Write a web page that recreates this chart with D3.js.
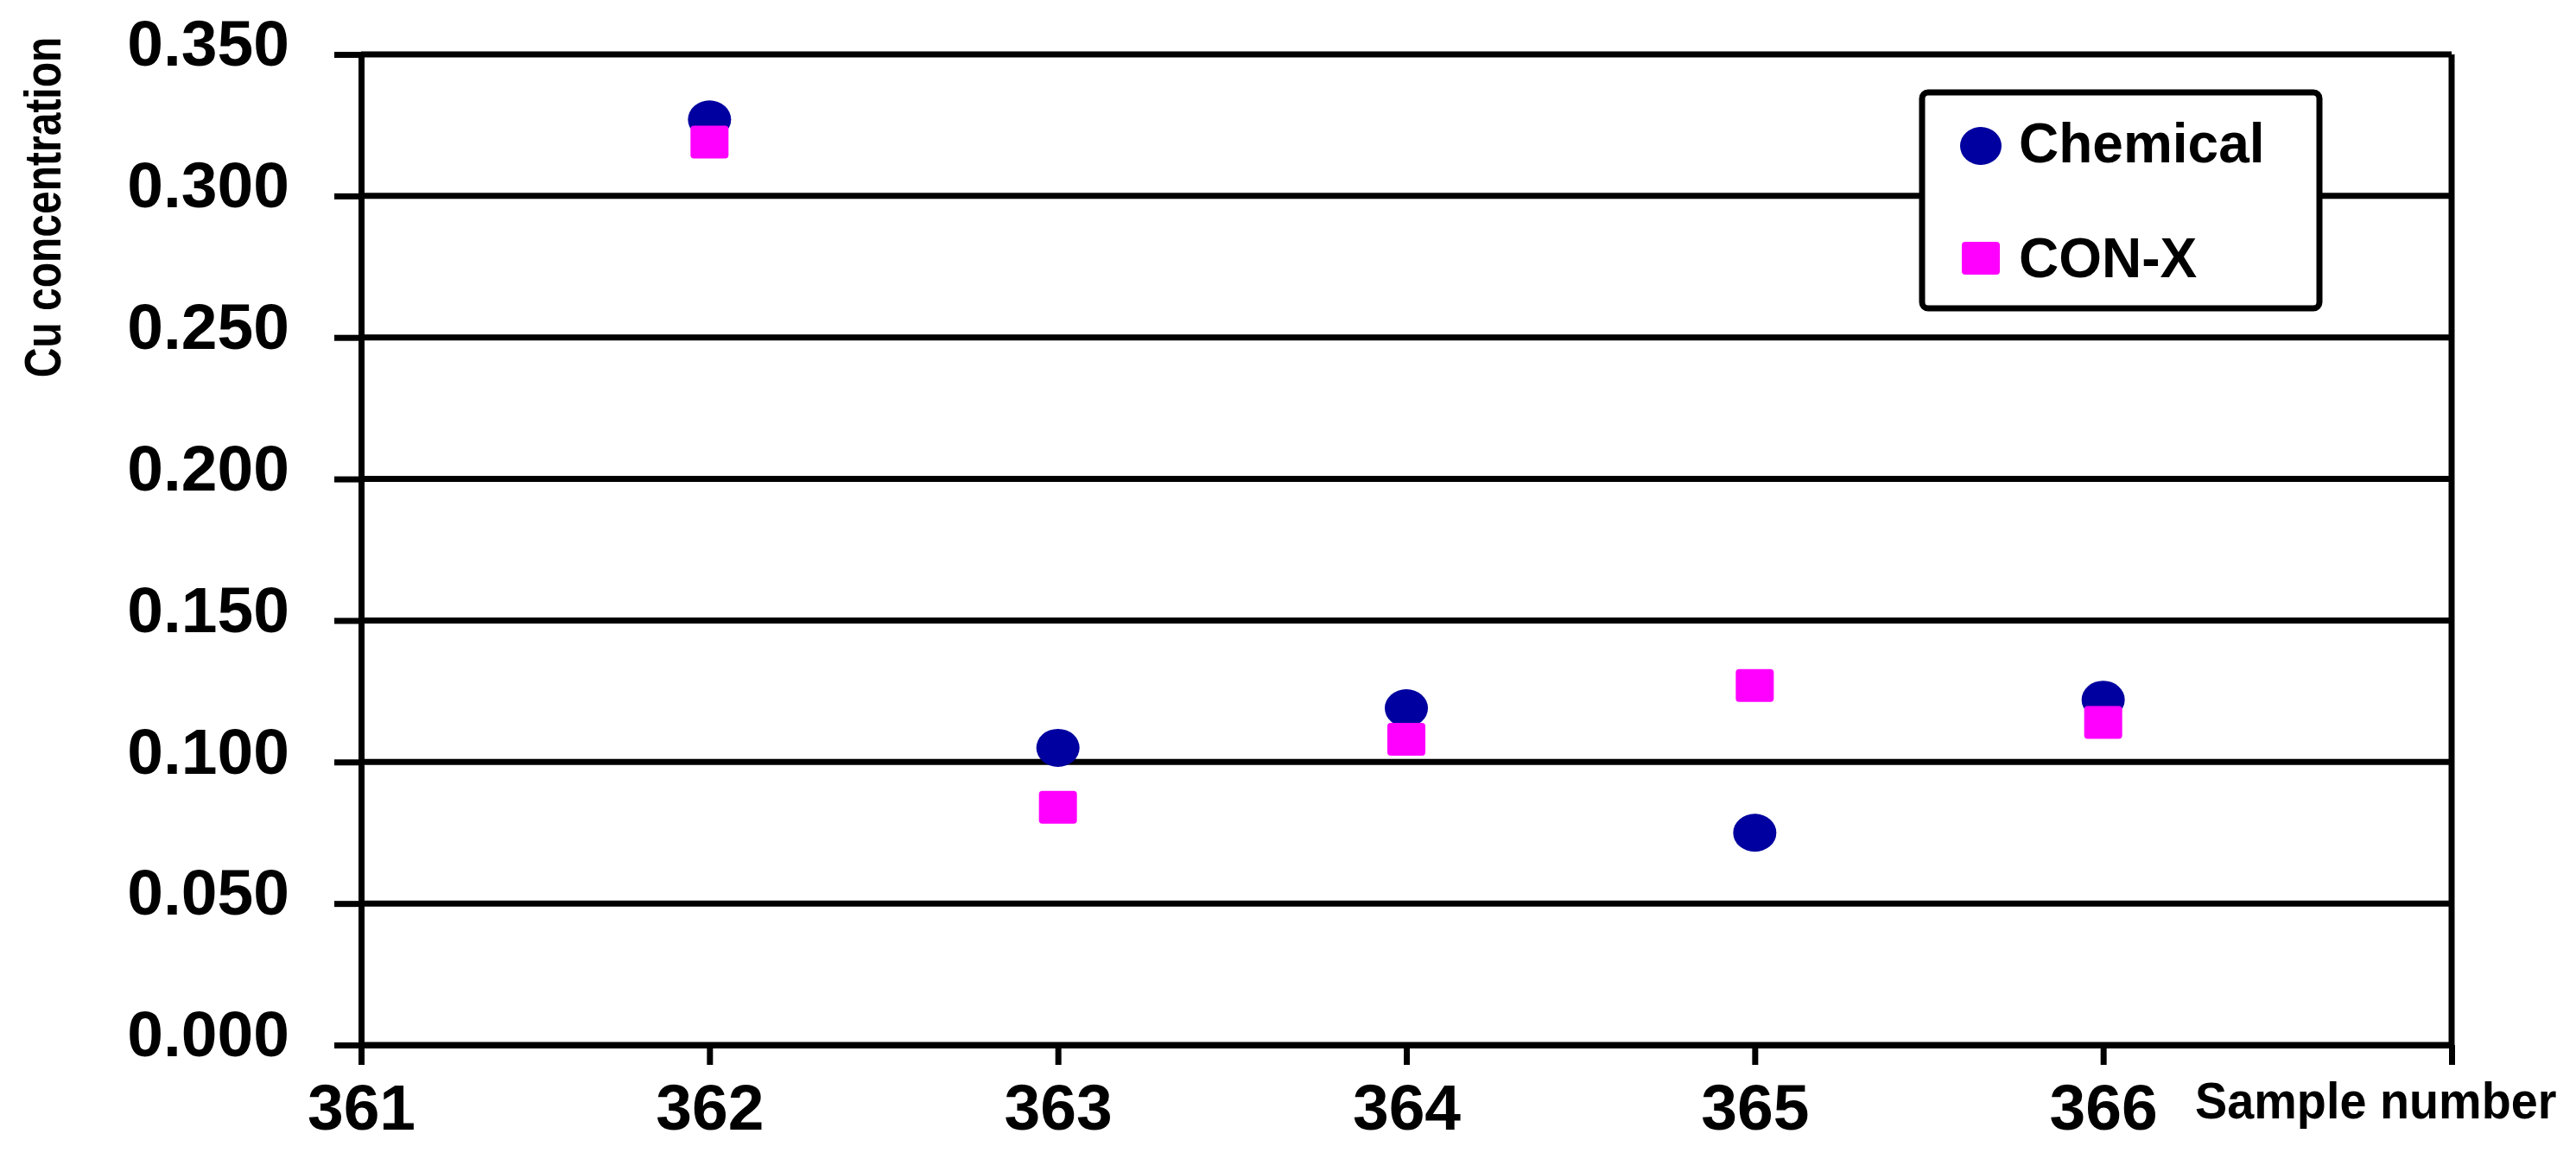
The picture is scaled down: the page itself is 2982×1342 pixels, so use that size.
<!DOCTYPE html>
<html>
<head>
<meta charset="utf-8">
<script src="https://cdnjs.cloudflare.com/ajax/libs/d3/7.8.5/d3.min.js"></script>
<style>
  html, body { margin: 0; padding: 0; background: #fff; }
  text { font-family: "Liberation Sans", Arial, sans-serif; font-weight: bold; fill: #000; }
</style>
</head>
<body>
<div id="chart"></div>
<script>
var samples = [362, 363, 364, 365, 366];
var chemical = [0.327, 0.105, 0.119, 0.075, 0.122];
var conx = [0.319, 0.084, 0.108, 0.127, 0.114];
var xTicks = [361, 362, 363, 364, 365, 366, 367];
var yTicks = [0, 0.05, 0.1, 0.15, 0.2, 0.25, 0.3, 0.35];
var seriesNames = ["Chemical", "CON-X"];

(function() {
  var width = 2982, height = 1342;
  var margin = { top: 63, left: 418, right: 144, bottom: 132 };

  var svg = d3.select("#chart")
    .append("svg")
    .attr("width", width)
    .attr("height", height)
    .style("display", "block");

  var xPositionScale = d3.scaleLinear()
    .domain([361, 367])
    .range([margin.left, width - margin.right]);

  var yPositionScale = d3.scaleLinear()
    .domain([0, 0.35])
    .range([height - margin.bottom, margin.top]);

  // horizontal grid lines
  svg.append("g")
    .attr("class", "grid")
    .selectAll("line")
    .data(yTicks)
    .enter()
    .append("line")
    .attr("x1", xPositionScale(361))
    .attr("x2", xPositionScale(367))
    .attr("y1", function(d) { return yPositionScale(d); })
    .attr("y2", function(d) { return yPositionScale(d); })
    .attr("stroke", "black")
    .attr("stroke-width", 7);

  // right border
  svg.append("line")
    .attr("x1", xPositionScale(367))
    .attr("x2", xPositionScale(367))
    .attr("y1", yPositionScale(0.35))
    .attr("y2", yPositionScale(0))
    .attr("stroke", "black")
    .attr("stroke-width", 7);

  var yAxis = d3.axisLeft(yPositionScale)
    .tickValues(yTicks)
    .tickFormat(d3.format(".3f"))
    .tickSize(31)
    .tickSizeOuter(0)
    .tickPadding(52);

  var yAxisG = svg.append("g")
    .attr("class", "axis y-axis")
    .attr("transform", "translate(" + margin.left + ",0)")
    .call(yAxis);

  var xAxis = d3.axisBottom(xPositionScale)
    .tickValues(xTicks)
    .tickFormat(function(d) { return d < 367 ? d : ""; })
    .tickSize(23)
    .tickSizeOuter(0)
    .tickPadding(22);

  var xAxisG = svg.append("g")
    .attr("class", "axis x-axis")
    .attr("transform", "translate(0," + yPositionScale(0) + ")")
    .call(xAxis);

  [yAxisG, xAxisG].forEach(function(g) {
    g.select(".domain").attr("stroke", "black").attr("stroke-width", 7);
    g.selectAll(".tick line").attr("stroke", "black").attr("stroke-width", 7);
    g.selectAll(".tick text")
      .attr("fill", "black")
      .style("font-family", "'Liberation Sans', Arial, sans-serif")
      .style("font-weight", "bold")
      .style("font-size", "75px");
  });
  yAxisG.selectAll(".tick text").attr("dy", "0.17em");

  // axis titles (narrowed like the original condensed face)
  svg.append("text")
    .attr("transform", "translate(70,240) rotate(-90) scale(0.8,1)")
    .attr("text-anchor", "middle")
    .style("font-size", "60px")
    .text("Cu concentration");

  svg.append("text")
    .attr("transform", "translate(2541,1295) scale(0.93,1)")
    .style("font-size", "60px")
    .text("Sample number");

  // points
  var dots = svg.append("g").attr("class", "points");

  dots.selectAll(".chem")
    .data(samples)
    .enter()
    .append("ellipse")
    .attr("class", "chem")
    .attr("cx", function(d) { return xPositionScale(d); })
    .attr("cy", function(d, i) { return yPositionScale(chemical[i]); })
    .attr("rx", 25)
    .attr("ry", 22)
    .attr("fill", "#0000a0");

  dots.selectAll(".conx")
    .data(samples)
    .enter()
    .append("rect")
    .attr("class", "conx")
    .attr("x", function(d) { return xPositionScale(d) - 22; })
    .attr("y", function(d, i) { return yPositionScale(conx[i]) - 19; })
    .attr("width", 44)
    .attr("height", 38)
    .attr("rx", 4)
    .attr("fill", "#ff00ff");

  // legend
  var legend = svg.append("g").attr("class", "legend");
  legend.append("rect")
    .attr("x", 2225)
    .attr("y", 107)
    .attr("width", 460)
    .attr("height", 250)
    .attr("rx", 7)
    .attr("fill", "white")
    .attr("stroke", "black")
    .attr("stroke-width", 7);
  legend.append("ellipse")
    .attr("cx", 2293)
    .attr("cy", 169)
    .attr("rx", 24)
    .attr("ry", 22)
    .attr("fill", "#0000a0");
  legend.append("rect")
    .attr("x", 2271)
    .attr("y", 280)
    .attr("width", 44)
    .attr("height", 38)
    .attr("rx", 4)
    .attr("fill", "#ff00ff");
  legend.append("text")
    .attr("x", 2337)
    .attr("y", 188)
    .style("font-size", "64px")
    .text(seriesNames[0]);
  legend.append("text")
    .attr("x", 2337)
    .attr("y", 321)
    .style("font-size", "64px")
    .text(seriesNames[1]);
})();
</script>
</body>
</html>
